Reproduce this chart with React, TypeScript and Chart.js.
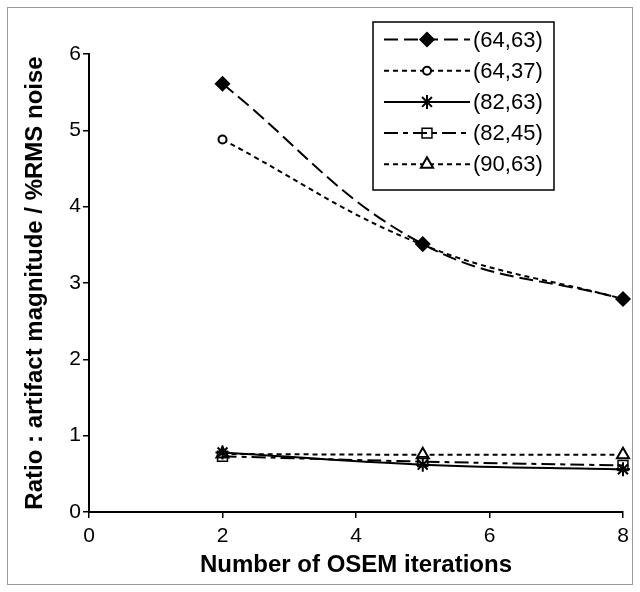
import React, { useEffect, useRef } from "react";
import { Chart, registerables } from "chart.js";
import { drawPoint } from "chart.js/helpers";

Chart.register(...registerables);

// ---- data ----
const iterations = [2, 5, 8];
const seriesLabels = ["(64,63)", "(64,37)", "(82,63)", "(82,45)", "(90,63)"];
const s64_63 = [5.61, 3.51, 2.79];
const s64_37 = [4.88, 3.5, 2.79];
const s82_63 = [0.78, 0.62, 0.56];
const s82_45 = [0.73, 0.66, 0.61];
const s90_63 = [0.76, 0.75, 0.75];
const xTicks = [0, 2, 4, 6, 8];
const yTicks = [0, 1, 2, 3, 4, 5, 6];
const xTitle = "Number of OSEM iterations";
const yTitle = "Ratio : artifact magnitude / %RMS noise";

const FONT = "'Liberation Sans', Arial, Helvetica, sans-serif";

const seriesValues = [s64_63, s64_37, s82_63, s82_45, s90_63];
const seriesStyles = [
  { dash: [14, 6], pointStyle: "rectRot", radius: 7, fill: "#000", bw: 1.5 },
  { dash: [5, 4], pointStyle: "circle", radius: 4, fill: "#fff", bw: 2 },
  { dash: [], pointStyle: "star", radius: 7, fill: "#000", bw: 2 },
  { dash: [14, 5, 5, 5], pointStyle: "rect", radius: 7, fill: "rgba(0,0,0,0)", bw: 1.5 },
  { dash: [5, 4], pointStyle: "triangle", radius: 7, fill: "#fff", bw: 2 },
];

const framePlugin = {
  id: "frame",
  beforeDraw(chart: any) {
    const ctx = chart.ctx;
    ctx.save();
    ctx.fillStyle = "#fff";
    ctx.fillRect(0, 0, chart.width, chart.height);
    ctx.strokeStyle = "#9a9a9a";
    ctx.lineWidth = 1;
    ctx.strokeRect(7.5, 7.5, chart.width - 15, chart.height - 15);
    ctx.restore();
  },
};

const legendPlugin = {
  id: "boxLegend",
  afterDraw(chart: any) {
    const ctx = chart.ctx;
    const area = chart.chartArea;
    const boxLeft = area.right - 250;
    const boxRight = area.right - 69;
    const boxTop = 22;
    const boxBottom = 190;
    ctx.save();
    ctx.fillStyle = "#fff";
    ctx.fillRect(boxLeft, boxTop, boxRight - boxLeft, boxBottom - boxTop);
    ctx.strokeStyle = "#000";
    ctx.lineWidth = 1.5;
    ctx.setLineDash([]);
    ctx.strokeRect(boxLeft, boxTop, boxRight - boxLeft, boxBottom - boxTop);
    const rowH = (boxBottom - boxTop - 12) / seriesLabels.length;
    chart.data.datasets.forEach((ds: any, i: number) => {
      const y = boxTop + 17.5 + i * rowH;
      const x0 = boxLeft + 11;
      const x1 = boxLeft + 97;
      const xm = boxLeft + 54;
      ctx.strokeStyle = "#000";
      ctx.lineWidth = 2;
      ctx.setLineDash(ds.borderDash || []);
      ctx.beginPath();
      ctx.moveTo(x0, y);
      ctx.lineTo(x1, y);
      ctx.stroke();
      ctx.setLineDash([]);
      ctx.fillStyle = ds.pointBackgroundColor;
      ctx.strokeStyle = "#000";
      ctx.lineWidth = ds.pointBorderWidth;
      drawPoint(ctx, { pointStyle: ds.pointStyle, radius: ds.pointRadius, rotation: 0, borderWidth: ds.pointBorderWidth } as any, xm, y);
      ctx.fillStyle = "#000";
      ctx.font = `22px ${FONT}`;
      ctx.textBaseline = "middle";
      ctx.textAlign = "left";
      ctx.fillText(ds.label, x1 + 3, y + 1);
    });
    ctx.restore();
  },
};

export default function App() {
  const canvasRef = useRef<HTMLCanvasElement | null>(null);

  useEffect(() => {
    const canvas = canvasRef.current;
    if (!canvas) return;
    const datasets = seriesLabels.map((label, i) => {
      const st = seriesStyles[i];
      return {
        label,
        data: iterations.map((x, j) => ({ x, y: seriesValues[i][j] })),
        borderColor: "#000",
        borderWidth: 2,
        borderDash: st.dash,
        tension: 0.4,
        fill: false,
        clip: false,
        pointStyle: st.pointStyle,
        pointRadius: st.radius,
        pointHoverRadius: st.radius,
        pointBackgroundColor: st.fill,
        pointBorderColor: "#000",
        pointBorderWidth: st.bw,
      };
    });

    const chart = new Chart(canvas, {
      type: "line",
      data: { datasets },
      plugins: [framePlugin, legendPlugin],
      options: {
        animation: false,
        responsive: false,
        devicePixelRatio: 1,
        layout: { padding: { top: 54, right: 17, left: 0, bottom: 0 } },
        plugins: {
          legend: { display: false },
          tooltip: { enabled: false },
        },
        scales: {
          x: {
            type: "linear",
            min: 0,
            max: 8,
            afterFit: (scale: any) => {
              scale.height = 80;
            },
            afterBuildTicks: (scale: any) => {
              scale.ticks = xTicks.map((v) => ({ value: v }));
            },
            ticks: {
              color: "#000",
              font: { family: FONT, size: 21 },
              padding: 6,
              maxRotation: 0,
            },
            grid: {
              drawOnChartArea: false,
              drawTicks: true,
              tickLength: 6,
              color: "#000",
              tickColor: "#000",
              lineWidth: 1.5,
            },
            border: { display: true, color: "#000", width: 2 },
            title: {
              display: true,
              text: xTitle,
              color: "#000",
              font: { family: FONT, size: 24, weight: "bold" },
              padding: { top: 0, bottom: 12 },
            },
          },
          y: {
            type: "linear",
            min: 0,
            max: 6,
            afterFit: (scale: any) => {
              scale.width = 89;
            },
            afterBuildTicks: (scale: any) => {
              scale.ticks = yTicks.map((v) => ({ value: v }));
            },
            ticks: {
              color: "#000",
              font: { family: FONT, size: 21 },
              padding: 2,
            },
            grid: {
              drawOnChartArea: false,
              drawTicks: true,
              tickLength: 6,
              color: "#000",
              tickColor: "#000",
              lineWidth: 1.5,
            },
            border: { display: true, color: "#000", width: 2 },
            title: {
              display: true,
              text: yTitle,
              color: "#000",
              font: { family: FONT, size: 24, weight: "bold" },
              padding: { top: 21, bottom: 0 },
            },
          },
        },
      } as any,
    });
    return () => chart.destroy();
  }, []);

  return (
    <div style={{ position: "absolute", left: 0, top: 0, width: 640, height: 592, background: "#fff" }}>
      <canvas ref={canvasRef} width={640} height={592} style={{ display: "block", width: "640px", height: "592px" }} />
    </div>
  );
}
